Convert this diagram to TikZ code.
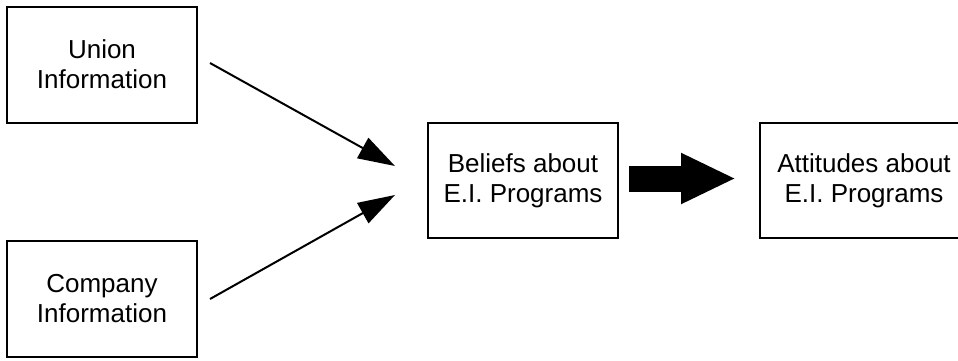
\documentclass[tikz,border=0pt]{standalone}
\usepackage{fontspec}
\setmainfont{Liberation Sans}
\usetikzlibrary{arrows.meta}
\begin{document}
\begin{tikzpicture}[x=1pt,y=-1pt,
  box/.style={draw, line width=2pt, align=center, inner sep=0pt,
    minimum height=116pt, font=\fontsize{26}{30}\selectfont},
  thin/.style={line width=2pt, -{Triangle[length=37pt,width=23pt]}},
  bold/.style={line width=26pt, -{Triangle[length=55pt,width=47pt]}}]
\useasboundingbox (0,0) rectangle (958,360);
\clip (0,0) rectangle (958,360);
\node[box, minimum width=190pt] (union) at (102,64.5) {Union\\Information};
\node[box, minimum width=190pt] (company) at (102,299) {Company\\Information};
\node[box, minimum width=190pt, minimum height=115pt] (beliefs) at (523,180.5) {Beliefs about\\E.I. Programs};
\node[box, minimum width=208pt, minimum height=115pt] (attitudes) at (864,180.5) {Attitudes about\\E.I. Programs};
% free ends of the two input arrows
\coordinate (ustart) at (210,63);
\coordinate (uend) at (395,166);
\coordinate (cstart) at (210,299);
\coordinate (cend) at (395,195);
\draw[thin] (ustart) -- (uend);
\draw[thin] (cstart) -- (cend);
% heavy arrow between the two belief/attitude boxes
\draw[bold, shorten <=10pt, shorten >=23pt] (beliefs.east |- 0,178.5) -- (attitudes.west |- 0,178.5);
\end{tikzpicture}
\end{document}
